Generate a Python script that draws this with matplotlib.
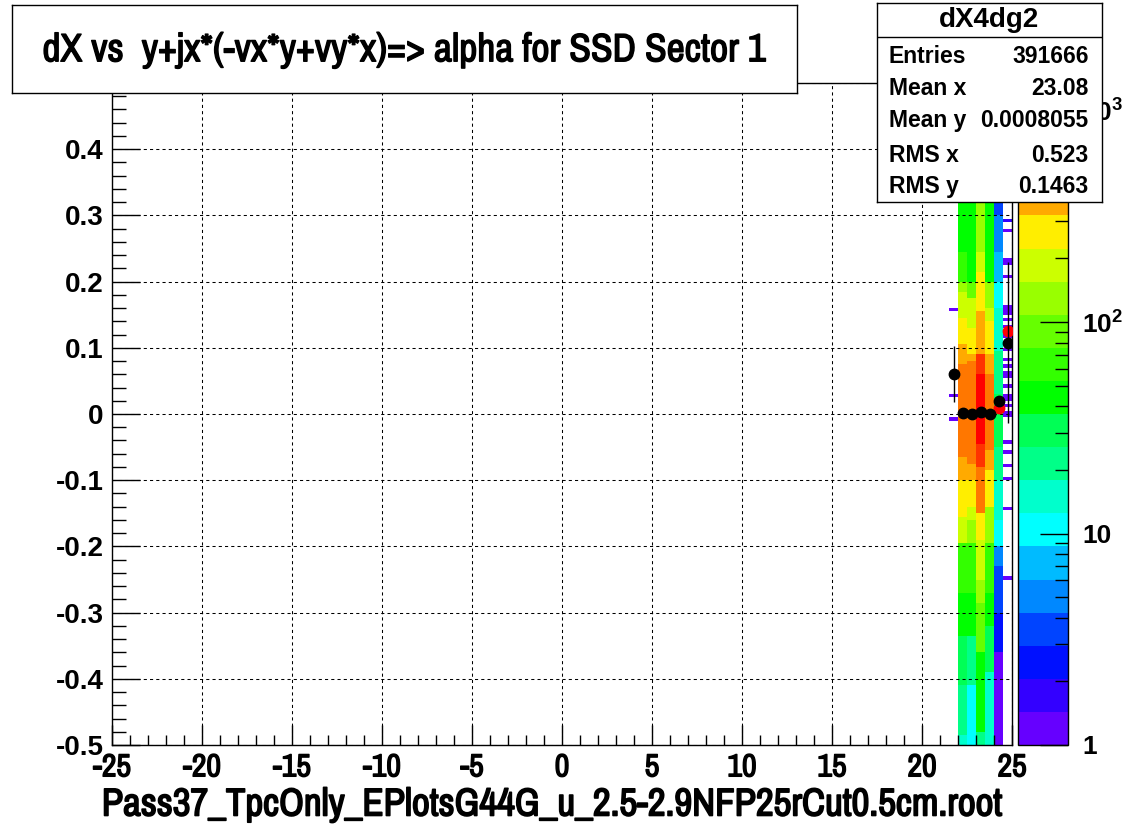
import numpy as np, matplotlib; matplotlib.use('Agg')
import matplotlib.pyplot as plt
import matplotlib.patheffects as pe
from matplotlib.colors import ListedColormap, LogNorm
from matplotlib import font_manager as fm
from matplotlib.ticker import MultipleLocator, FixedLocator, FuncFormatter, LogLocator, NullFormatter

names = sorted({f.name for f in fm.fontManager.ttflist})
narrow = [n for n in names if 'Narrow' in n or 'Condensed' in n]
SANS = 'Liberation Sans'
NARROW = narrow[0] if narrow else SANS
# a narrow face without a bold weight gets a thin outline to look bold
thick = lambda w: [pe.withStroke(linewidth=w, foreground='black')] if narrow else []
plt.rcParams['mathtext.fontset'] = 'custom'
plt.rcParams['mathtext.rm'] = SANS
plt.rcParams['mathtext.bf'] = SANS + ':bold'

# ---- data ----
title = 'dX vs  y+jx*(-vx*y+vy*x)=> alpha for SSD Sector 1'
xlabel = 'Pass37_TpcOnly_EPlotsG44G_u_2.5-2.9NFP25rCut0.5cm.root'
stats_name = 'dX4dg2'
stats_rows = [('Entries', '391666'), ('Mean x', '23.08'), ('Mean y', '0.0008055'),
              ('RMS x', '0.523'), ('RMS y', '0.1463')]

# columns of the 2D histogram: (y_high, y_low, counts)
band_x = [22.25, 22.75, 23.25, 23.75, 24.25]
c1_seg = [(0.50, 0.32, 40), (0.32, 0.247, 50), (0.247, 0.20, 75), (0.20, 0.186, 128), (0.186, 0.145, 180),
          (0.145, 0.106, 260), (0.106, 0.073, 370), (0.073, -0.064, 530), (-0.064, -0.098, 370),
          (-0.098, -0.157, 260), (-0.157, -0.197, 160), (-0.197, -0.268, 70), (-0.268, -0.336, 45),
          (-0.336, -0.41, 30), (-0.41, -0.483, 20), (-0.483, -0.50, 13)]
c2_seg = [(0.50, 0.32, 35), (0.32, 0.20, 42), (0.20, 0.177, 80), (0.177, 0.13, 180), (0.13, 0.09, 260),
          (0.09, 0.08, 370), (0.08, -0.076, 530), (-0.076, -0.098, 370), (-0.098, -0.142, 260),
          (-0.142, -0.162, 180), (-0.162, -0.197, 128), (-0.197, -0.268, 70), (-0.268, -0.336, 40),
          (-0.336, -0.41, 21), (-0.41, -0.483, 12), (-0.483, -0.50, 10)]
c3_seg = [(0.50, 0.32, 100), (0.32, 0.247, 140), (0.247, 0.216, 180), (0.216, 0.155, 260), (0.155, 0.092, 370),
          (0.092, 0.06, 760), (0.06, -0.045, 1100), (-0.045, -0.082, 760), (-0.082, -0.152, 530),
          (-0.152, -0.192, 260), (-0.192, -0.248, 180), (-0.248, -0.285, 130), (-0.285, -0.36, 85),
          (-0.36, -0.48, 50), (-0.48, -0.50, 25)]
c4_seg = [(0.50, 0.32, 35), (0.32, 0.20, 45), (0.20, 0.16, 120), (0.16, 0.141, 180), (0.141, 0.091, 260),
          (0.091, 0.058, 370), (0.058, -0.056, 530), (-0.056, -0.086, 370), (-0.086, -0.142, 260),
          (-0.142, -0.197, 150), (-0.197, -0.27, 60), (-0.27, -0.32, 45), (-0.32, -0.39, 28),
          (-0.39, -0.50, 16)]
c5_seg = [(0.50, 0.30, 3), (0.30, 0.247, 4.5), (0.247, 0.20, 7), (0.20, 0.16, 10), (0.16, 0.095, 15),
          (0.095, 0.03, 21), (0.03, -0.05, 32), (-0.05, -0.10, 21), (-0.10, -0.16, 13), (-0.16, -0.20, 9),
          (-0.20, -0.23, 5), (-0.23, -0.30, 3.5), (-0.30, -0.36, 2.2), (-0.36, -0.50, 1.2)]
# sparse single-entry cells
c0_x, c0_hits = 21.75, [0.16, 0.027, -0.006]
c6_x, c6_hits = 24.75, [0.295, 0.291, 0.276, 0.232, 0.227, 0.208, 0.165, 0.159, 0.152, 0.142, 0.133, 0.124,
                        0.117, 0.105, 0.097, 0.083, 0.073, 0.062, 0.056, 0.041, 0.029, 0.021, 0.014, 0.005,
                        -0.003, -0.044, -0.059, -0.079, -0.095, -0.141, -0.248]

# profile (black) and fit (red) points
prof_x = [21.75, 22.25, 22.75, 23.25, 23.75, 24.25, 24.75]
prof_y = [0.06, 0.002, 0.0, 0.003, 0.0, 0.019, 0.108]
prof_err = [0.042, 0.002, 0.002, 0.002, 0.002, 0.004, 0.122]
fit_x = [24.25, 24.75]
fit_y = [0.009, 0.126]

zmin, zmax = 1, 1350
palette = ['#6600ff', '#3300ff', '#0010ff', '#0044ff', '#0088ff', '#00bbff', '#00ffff', '#00ffcc', '#00ff88',
           '#00ff55', '#00ff00', '#33ff00', '#66ff00', '#99ff00', '#ccff00', '#ffee00', '#ffaa00', '#ff7700',
           '#ff3300', '#ff0000']

# ---- build histogram ----
xe = np.linspace(-25, 25, 101); ye = np.linspace(-0.5, 0.5, 201)
yc = 0.5 * (ye[:-1] + ye[1:])
H = np.zeros((len(yc), len(xe) - 1))
def col(xc): return int(np.searchsorted(xe, xc) - 1)
for xc, seg in zip(band_x, [c1_seg, c2_seg, c3_seg, c4_seg, c5_seg]):
    for hi, lo, n in seg:
        H[(yc < hi) & (yc >= lo), col(xc)] = n
for xc, hits in [(c0_x, c0_hits), (c6_x, c6_hits)]:
    for y in hits:
        H[np.searchsorted(ye, y) - 1, col(xc)] += 1
Hm = np.ma.masked_equal(H, 0)

W, Hpx = 1125, 825
def fx(px): return px / W
def fy(py): return 1 - py / Hpx

fig = plt.figure(figsize=(11.25, 8.25), dpi=100)
ax = fig.add_axes([fx(112), fy(745), fx(1012) - fx(112), fy(83) - fy(745)])
cmap = ListedColormap(palette); norm = LogNorm(vmin=zmin, vmax=zmax)
mesh = ax.pcolormesh(xe, ye, Hm, cmap=cmap, norm=norm)
ax.errorbar(fit_x, fit_y, fmt='o', color='red', ms=7.5, zorder=3)
ax.errorbar(prof_x, prof_y, xerr=0.25, yerr=prof_err, fmt='o', color='black', ms=7.5, lw=1, capsize=0, zorder=4)
ax.set_xlim(-25, 25); ax.set_ylim(-0.5, 0.5)
ax.xaxis.set_major_locator(MultipleLocator(5)); ax.xaxis.set_minor_locator(MultipleLocator(1))
ax.yaxis.set_major_locator(MultipleLocator(0.1)); ax.yaxis.set_minor_locator(MultipleLocator(0.02))
ax.xaxis.set_major_formatter(FuncFormatter(lambda v, p: '%d' % round(v)))
ax.yaxis.set_major_formatter(FuncFormatter(lambda v, p: '0' if abs(v) < 1e-9 else '%g' % round(v, 2)))
ax.tick_params(axis='both', which='both', direction='in', top=False, right=False, width=1, colors='black')
ax.tick_params(axis='x', which='major', length=14.4, pad=6)
ax.tick_params(axis='x', which='minor', length=7.2)
ax.tick_params(axis='y', which='major', length=20.5, pad=6)
ax.tick_params(axis='y', which='minor', length=10)
for t in ax.get_yticklabels():
    t.set_fontfamily(SANS); t.set_fontweight('bold'); t.set_fontsize(20)
for t in ax.get_xticklabels():
    t.set_fontfamily(NARROW); t.set_fontweight('bold'); t.set_fontsize(23 if narrow else 20)
    t.set_path_effects(thick(1.0))
ax.grid(which='major', color='black', linestyle=(0, (3, 3)), lw=0.75)
for s in ax.spines.values(): s.set_linewidth(1)
fig.text(fx(552), fy(805), xlabel, ha='center', va='center', fontfamily=NARROW, fontweight='bold',
         fontsize=28 if narrow else 22, path_effects=thick(1.2))

# colour bar
cax = fig.add_axes([fx(1018), fy(745), fx(1068) - fx(1018), fy(83) - fy(745)])
cb = fig.colorbar(mesh, cax=cax)
cb.outline.set_linewidth(1)
cax.yaxis.set_major_locator(FixedLocator([1, 10, 100, 1000]))
cax.yaxis.set_minor_locator(LogLocator(base=10, subs=np.arange(2, 10)))
cax.yaxis.set_minor_formatter(NullFormatter())
cax.yaxis.set_major_formatter(FuncFormatter(lambda v, p: {1: '1', 10: '10'}.get(int(round(v)), r'$\mathbf{10^{%d}}$' % round(np.log10(v)))))
cax.tick_params(which='both', direction='in', right=True, left=False, width=1)
cax.tick_params(which='major', length=20, pad=10)
cax.tick_params(which='minor', length=9.4)
for t in cax.get_yticklabels():
    t.set_fontfamily(SANS); t.set_fontweight('bold'); t.set_fontsize(19)

# title box
tax = fig.add_axes([fx(12), fy(93), fx(797) - fx(12), fy(5) - fy(93)])
tax.set_xticks([]); tax.set_yticks([])
for s in tax.spines.values(): s.set_linewidth(1)
tax.text(0.5, 0.48, title, ha='center', va='center', transform=tax.transAxes,
         fontfamily=NARROW, fontweight='bold', fontsize=28.5 if narrow else 22, path_effects=thick(1.0))

# stats box
sax = fig.add_axes([fx(877), fy(202), fx(1102) - fx(877), fy(3) - fy(202)])
sax.set_xticks([]); sax.set_yticks([]); sax.set_xlim(0, 1); sax.set_ylim(0, 1)
for s in sax.spines.values(): s.set_linewidth(1)
sax.axhline(0.829, color='black', lw=1)
sax.text(0.5, 0.915, stats_name, ha='center', va='center', fontfamily=SANS, fontweight='bold', fontsize=20)
for (k, v), yy in zip(stats_rows, [0.729, 0.568, 0.412, 0.236, 0.080]):
    sax.text(0.053, yy, k, ha='left', va='center', fontfamily=SANS, fontweight='bold', fontsize=16.5)
    sax.text(0.94, yy, v, ha='right', va='center', fontfamily=SANS, fontweight='bold', fontsize=16.5)

fig.savefig('out.png', dpi=100)
